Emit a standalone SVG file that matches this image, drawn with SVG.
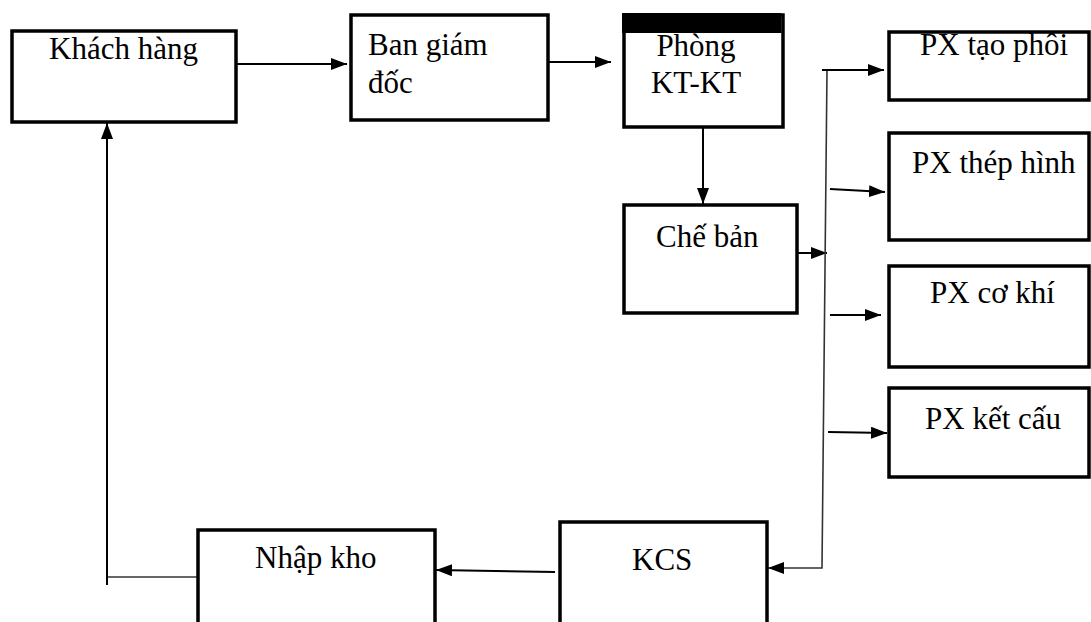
<svg xmlns="http://www.w3.org/2000/svg" width="1091" height="622" viewBox="0 0 1091 622">
<style>
.box{fill:#fff;stroke:#000;stroke-width:3.5}
.t{font-family:"Liberation Serif","Times New Roman",serif;font-size:31px;fill:#000}
.c{fill:none;stroke:#000;stroke-width:2}
.thin{fill:none;stroke:#333;stroke-width:1.6}
</style>
<defs>
<marker id="ah" viewBox="0 0 16 12" refX="16" refY="6" markerWidth="16" markerHeight="12" markerUnits="userSpaceOnUse" orient="auto">
<path d="M0,0 L16,6 L0,12 z" fill="#000"/>
</marker>
</defs>
<rect width="1091" height="622" fill="#fff"/>
<g id="connectors">
<line class="c" x1="236" y1="64" x2="347" y2="64" marker-end="url(#ah)"/>
<line class="c" x1="548" y1="62" x2="611" y2="62" marker-end="url(#ah)"/>
<line class="c" x1="703" y1="128" x2="703" y2="204" marker-end="url(#ah)"/>
<line class="c" x1="797" y1="253" x2="827" y2="253" marker-end="url(#ah)"/>
<polyline class="thin" points="827,70 822,568 768,568" marker-end="url(#ah)"/>
<line class="c" x1="822" y1="70" x2="884" y2="70" marker-end="url(#ah)"/>
<line class="c" x1="830" y1="189" x2="885" y2="192" marker-end="url(#ah)"/>
<line class="c" x1="830" y1="315" x2="881" y2="315" marker-end="url(#ah)"/>
<line class="c" x1="828" y1="432" x2="887" y2="433" marker-end="url(#ah)"/>
<line class="c" x1="555" y1="572" x2="436" y2="570" marker-end="url(#ah)"/>
<polyline class="thin" points="198,577 108,577"/>
<line class="c" x1="107" y1="585" x2="107" y2="123" marker-end="url(#ah)"/>
</g>
<g id="khach-hang">
<rect class="box" x="12" y="31" width="224" height="91"/>
<text class="t" x="49" y="59">Khách hàng</text>
</g>
<g id="ban-giam-doc">
<rect class="box" x="351" y="15" width="197" height="105"/>
<text class="t" x="368" y="55">Ban giám</text>
<text class="t" x="368" y="93">đốc</text>
</g>
<g id="phong-kt-kt">
<rect class="box" x="624" y="15" width="159" height="112"/>
<rect x="622" y="13" width="159" height="20" fill="#000"/>
<line x1="782" y1="14" x2="782" y2="33" stroke="#000" stroke-width="1"/>
<text class="t" x="696" y="56" text-anchor="middle">Phòng</text>
<text class="t" x="696" y="93" text-anchor="middle">KT-KT</text>
</g>
<g id="che-ban">
<rect class="box" x="624" y="205" width="173" height="108"/>
<text class="t" x="656" y="247">Chế bản</text>
</g>
<g id="px-tao-phoi">
<rect class="box" x="889" y="32" width="200" height="68"/>
<text class="t" x="920" y="55">PX tạo phôi</text>
</g>
<g id="px-thep-hinh">
<rect class="box" x="889" y="133" width="200" height="107"/>
<text class="t" x="912" y="173">PX thép hình</text>
</g>
<g id="px-co-khi">
<rect class="box" x="889" y="266" width="200" height="101"/>
<text class="t" x="930" y="303">PX cơ khí</text>
</g>
<g id="px-ket-cau">
<rect class="box" x="889" y="388" width="200" height="89"/>
<text class="t" x="925" y="429">PX kết cấu</text>
</g>
<g id="kcs">
<rect class="box" x="560" y="522" width="207" height="110"/>
<text class="t" x="632" y="570">KCS</text>
</g>
<g id="nhap-kho">
<rect class="box" x="198" y="530" width="237" height="102"/>
<text class="t" x="255" y="568">Nhập kho</text>
</g>
</svg>
